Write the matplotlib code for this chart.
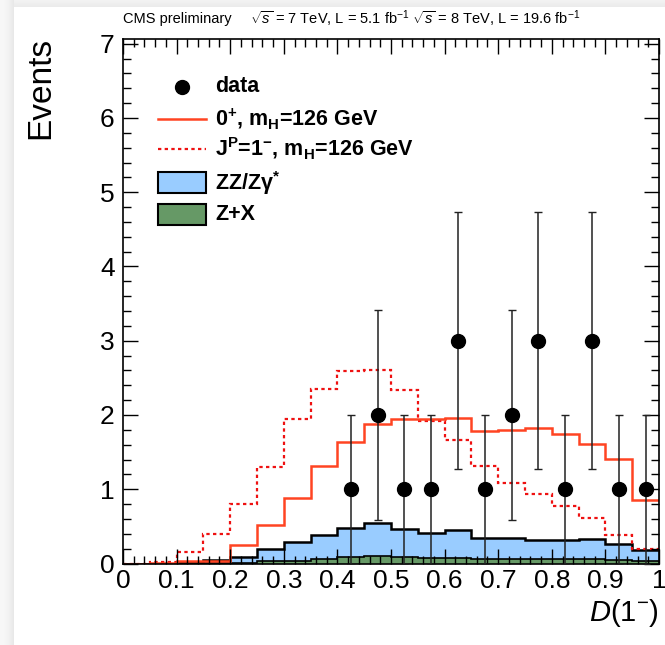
import numpy as np
import matplotlib
matplotlib.use("Agg")
import matplotlib.pyplot as plt
from matplotlib.patches import Rectangle
from matplotlib.lines import Line2D
from matplotlib.ticker import MultipleLocator, FixedLocator

plt.rcParams["font.family"] = ["Liberation Sans", "DejaVu Sans"]
plt.rcParams["mathtext.fontset"] = "custom"
plt.rcParams["mathtext.rm"] = "Liberation Sans"
plt.rcParams["mathtext.it"] = "Liberation Sans:italic"
plt.rcParams["mathtext.bf"] = "Liberation Sans:bold"

# ---- binning of the discriminant D(1-) ----
bin_edges = [0.00, 0.05, 0.10, 0.15, 0.20, 0.25, 0.30, 0.35, 0.40, 0.45, 0.50,
             0.55, 0.60, 0.65, 0.70, 0.75, 0.80, 0.85, 0.90, 0.95, 1.00]

# ---- expected yields per bin ----
sm_0plus = [0.00, 0.005, 0.03, 0.04, 0.25, 0.52, 0.88, 1.31, 1.64, 1.88,
            1.94, 1.94, 1.96, 1.79, 1.80, 1.82, 1.75, 1.61, 1.41, 0.86]
alt_1minus = [0.00, 0.02, 0.16, 0.40, 0.80, 1.30, 1.95, 2.35, 2.59, 2.61,
              2.34, 1.92, 1.66, 1.31, 1.09, 0.94, 0.775, 0.61, 0.39, 0.20]
bkg_zz = [0.00, 0.00, 0.007, 0.045, 0.08, 0.17, 0.255, 0.33, 0.39, 0.44,
          0.375, 0.335, 0.37, 0.29, 0.28, 0.265, 0.255, 0.275, 0.215, 0.15]
bkg_zx = [0.00, 0.00, 0.003, 0.005, 0.01, 0.03, 0.035, 0.06, 0.09, 0.10,
          0.09, 0.08, 0.08, 0.06, 0.06, 0.055, 0.055, 0.055, 0.045, 0.03]

# ---- observed events per bin ----
data_counts = [0, 0, 0, 0, 0, 0, 0, 0, 1, 2, 1, 1, 3, 1, 2, 3, 1, 3, 1, 1]

# ---- figure ----
W, H = 665, 645
fig = plt.figure(figsize=(W / 100, H / 100), dpi=100)
fig.patch.set_facecolor("white")

# window shadow along top/left border
for i in range(14):
    shade = 0.97 - 0.06 * (i / 13.0) ** 2
    fig.patches.append(Rectangle((i / W, 0), 1.0 / W, 1, transform=fig.transFigure,
                                 color=(shade, shade, shade), zorder=0, lw=0))
for j in range(7):
    shade = 0.95 - 0.03 * (j / 6.0)
    fig.patches.append(Rectangle((14 / W, 1 - (j + 1) / H), 1, 1.0 / H,
                                 transform=fig.transFigure,
                                 color=(shade, shade, shade), zorder=0, lw=0))

ax_l, ax_r, ax_t, ax_b = 123, 659, 38.5, 563.5
ax = fig.add_axes([ax_l / W, 1 - ax_b / H, (ax_r - ax_l) / W, (ax_b - ax_t) / H])

edges = np.array(bin_edges)
zz = np.array(bkg_zz)
zx = np.array(bkg_zx)
bkg_total = zz + zx

blue = "#99ccff"
green = "#669966"
red_solid = "#ff4422"
red_dot = "#ee1111"

# stacked backgrounds
ax.stairs(bkg_total, edges, baseline=0, fill=True, color=blue, zorder=1)
ax.stairs(bkg_total, edges, baseline=None, color="black", lw=1.8, zorder=1.2)
ax.stairs(zx, edges, baseline=0, fill=True, color=green, zorder=1.3)
ax.stairs(zx, edges, baseline=None, color="black", lw=1.2, zorder=1.4)

# signal hypotheses
ax.stairs(np.array(alt_1minus), edges, baseline=None, color=red_dot, lw=1.6,
          linestyle=(0, (1.5, 1.5)), zorder=2)
ax.stairs(np.array(sm_0plus), edges, baseline=None, color=red_solid, lw=1.8, zorder=2.1)

# data with sqrt(N) errors
counts = np.array(data_counts, dtype=float)
centers = 0.5 * (edges[:-1] + edges[1:])
mask = counts > 0
ax.errorbar(centers[mask], counts[mask], yerr=np.sqrt(counts[mask]), fmt="o",
            color="black", ms=10, elinewidth=1.1, ecolor="#222222",
            capsize=3, capthick=1.0, zorder=3)

ax.set_xlim(0, 1)
ax.set_ylim(0, 7.07)

ax.xaxis.set_major_locator(FixedLocator([0, 0.1, 0.2, 0.3, 0.4, 0.5, 0.6, 0.7, 0.8, 0.9, 1.0]))
ax.set_xticklabels(["0", "0.1", "0.2", "0.3", "0.4", "0.5", "0.6", "0.7", "0.8", "0.9", "1"])
ax.xaxis.set_minor_locator(MultipleLocator(0.02))
ax.yaxis.set_major_locator(MultipleLocator(1))
ax.yaxis.set_minor_locator(MultipleLocator(0.2))
ax.tick_params(which="both", direction="in", top=True, right=True, width=1.0,
               labelsize=19, colors="black")
ax.tick_params(which="major", length=11)
ax.tick_params(which="minor", length=5.5)
ax.tick_params(axis="x", pad=4)
ax.tick_params(axis="y", pad=6)
for sp in ax.spines.values():
    sp.set_linewidth(1.2)
ax.set_axisbelow(False)

# axis titles
fig.text(ax_r / W, 1 - 613 / H, r"$\mathit{D}$(1$^{-}$)", ha="right", va="center",
         fontsize=21)
fig.text(41 / W, 1 - 37 / H, "Events", rotation=90, ha="center", va="top", fontsize=24)

# header
fig.text(ax_l / W, 1 - 19 / H, "CMS preliminary", ha="left", va="center", fontsize=10.5)
fig.text(250 / W, 1 - 19 / H,
         r"$\sqrt{s}$ = 7 TeV, L = 5.1 fb$^{-1}$ $\sqrt{s}$ = 8 TeV, L = 19.6 fb$^{-1}$",
         ha="left", va="center", fontsize=10.5)

# legend
def fx(px):
    return px / W

def fy(py):
    return 1 - py / H

leg_text_x = 215
sym_x0, sym_x1 = 158, 206
fs_leg = 15.5
fig.add_artist(Line2D([fx(182)], [fy(87)], marker="o", ms=10, color="black",
                      transform=fig.transFigure))
fig.text(fx(leg_text_x), fy(87), "data", ha="left", va="center", fontsize=fs_leg,
         fontweight="bold")
fig.add_artist(Line2D([fx(sym_x0), fx(sym_x1)], [fy(119), fy(119)], color=red_solid,
                      lw=1.8, transform=fig.transFigure))
fig.text(fx(leg_text_x), fy(119), r"0$^{\mathbf{+}}$, m$_{\mathbf{H}}$=126 GeV",
         ha="left", va="center", fontsize=fs_leg, fontweight="bold")
fig.add_artist(Line2D([fx(sym_x0), fx(sym_x1)], [fy(149), fy(149)], color=red_dot,
                      lw=1.6, linestyle=(0, (1.5, 1.5)), transform=fig.transFigure))
fig.text(fx(leg_text_x), fy(149),
         r"J$^{\mathbf{P}}$=1$^{\mathbf{-}}$, m$_{\mathbf{H}}$=126 GeV",
         ha="left", va="center", fontsize=fs_leg, fontweight="bold")
fig.add_artist(Rectangle((fx(sym_x0), fy(193)), (sym_x1 - sym_x0) / W, 21 / H,
                         facecolor=blue, edgecolor="black", lw=1.5,
                         transform=fig.transFigure))
fig.text(fx(leg_text_x), fy(183), r"ZZ/Zγ$^{\mathbf{*}}$", ha="left", va="center",
         fontsize=fs_leg, fontweight="bold")
fig.add_artist(Rectangle((fx(sym_x0), fy(225)), (sym_x1 - sym_x0) / W, 21 / H,
                         facecolor=green, edgecolor="black", lw=1.5,
                         transform=fig.transFigure))
fig.text(fx(leg_text_x), fy(214), "Z+X", ha="left", va="center", fontsize=fs_leg,
         fontweight="bold")

fig.savefig("out.png", dpi=100)
